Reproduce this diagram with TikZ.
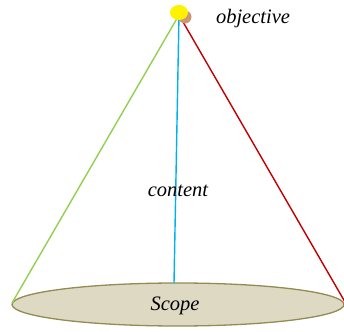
\documentclass[tikz,border=0pt]{standalone}
\usepackage{fontspec}
\setmainfont{Liberation Serif}[ItalicFont={Liberation Serif Italic}]
\usetikzlibrary{shapes.geometric}
\definecolor{cgreen}{RGB}{146,208,80}
\definecolor{cblue}{RGB}{0,176,240}
\definecolor{cred}{RGB}{192,0,0}
\definecolor{cfill}{RGB}{221,217,195}
\definecolor{cborder}{RGB}{148,138,84}
\definecolor{cbrown}{RGB}{205,150,115}
\tikzset{
  lbl/.style={font=\itshape\fontsize{20.5}{23}\selectfont, inner sep=0pt},
  edge/.style={line width=1.4pt},
}
\begin{document}
\begin{tikzpicture}[x=1pt,y=1pt]
\useasboundingbox (0,0) rectangle (344,331);
\begin{scope}
\clip (0,0) rectangle (344,331);
\node[ellipse, draw=cborder, fill=cfill, line width=1.3pt, minimum width=332pt, minimum height=43pt, inner sep=0pt] (scope) at (178,26.5) {};
\coordinate (apex) at (179,316);
\coordinate (gend) at (12,28);
\coordinate (bend) at (174,48);
\coordinate (rend) at (345,29);
\draw[edge, cgreen] (apex) -- (gend);
\draw[edge, cred] (apex) -- (rend);
\draw[edge, cblue] (apex) -- (bend);
\node[lbl] (scopelbl) at (175,25) {Scope};
\node[circle, fill=cbrown, minimum size=13pt, inner sep=0pt] (dot2) at (185,314) {};
\node[ellipse, fill=yellow, minimum width=18pt, minimum height=15pt, inner sep=0pt] (dot) at (179,318.5) {};
\node[lbl] (obj) at (253,312) {objective};
\node[lbl] (content) at (178,140) {content};
\end{scope}
\end{tikzpicture}
\end{document}
